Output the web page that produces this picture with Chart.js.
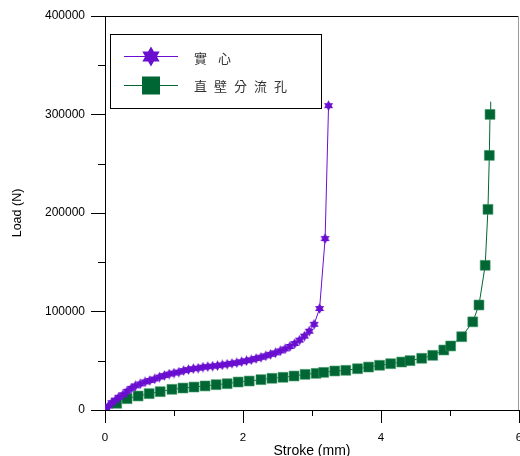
<!DOCTYPE html>
<html>
<head>
<meta charset="utf-8">
<script src="https://cdn.jsdelivr.net/npm/chart.js@4/dist/chart.umd.min.js"></script>
<style>
  html, body { margin: 0; padding: 0; background: #fff; }
  canvas { display: block; }
</style>
</head>
<body>
<canvas id="loadChart" width="520" height="456"></canvas>
<script>
// Solid die (實心) - stroke in mm, load in N
const solidStroke = [0, 0.05, 0.10, 0.15, 0.20, 0.26, 0.32, 0.38, 0.44, 0.51, 0.58, 0.65, 0.72, 0.79, 0.86, 0.93,
    1.00, 1.07, 1.14, 1.21, 1.28, 1.35, 1.42, 1.49, 1.56, 1.63, 1.70, 1.77, 1.84, 1.91, 1.98, 2.05, 2.12, 2.19,
    2.26, 2.33, 2.40, 2.47, 2.54, 2.61, 2.68, 2.75, 2.82, 2.89, 2.96, 3.03, 3.11, 3.19, 3.24];
const solidLoad = [0, 4000, 7500, 10000, 13000, 15500, 19000, 22000, 24500, 26500, 28500, 30000, 31500, 33500, 35000, 36500,
    37500, 38500, 40000, 41000, 42000, 42500, 43500, 44000, 44500, 45000, 45800, 46500, 47300, 48000, 49000, 50000, 51000, 52300,
    53500, 55000, 56500, 58000, 60000, 62000, 64500, 67500, 71000, 75000, 80000, 87000, 103000, 174000, 309000];

// Straight-wall relief hole (直壁分流孔)
const holeStroke = [0, 0.17, 0.32, 0.48, 0.64, 0.80, 0.97, 1.13, 1.29, 1.45, 1.61, 1.77, 1.93, 2.09, 2.26, 2.42, 2.58,
    2.74, 2.90, 3.06, 3.17, 3.33, 3.49, 3.66, 3.82, 3.98, 4.14, 4.30, 4.42, 4.59, 4.75, 4.91, 5.01, 5.17, 5.33,
    5.42, 5.51, 5.55, 5.57, 5.58, 5.59];
const holeLoad = [0, 6800, 11500, 14200, 16600, 18600, 21000, 22300, 23300, 24400, 25700, 26700, 28400, 29400, 30800, 32200, 33200,
    34500, 36200, 37200, 38200, 39600, 40300, 41900, 43600, 45400, 47000, 48700, 50100, 52500, 55500, 60900, 65000, 74400, 89500,
    106600, 146900, 203700, 258500, 300100, 313000];

const seriesNames = ['實 心', '直 壁 分 流 孔'];
const xTicksMajor = [0, 2, 4, 6];
const yTicksMajor = [0, 100000, 200000, 300000, 400000];

const colors = {
    solid: '#6a0fd0',
    hole: '#006633',
    text: '#000',
    legendText: '#333'
};

const FONT = '"Liberation Sans", Arial, sans-serif';

// six-pointed star path
function hexagram(ctx, cx, cy, r) {
    ctx.beginPath();
    [-90, 30, 150].forEach((a, i) => {
        const t = a * Math.PI / 180;
        const px = cx + r * Math.cos(t), py = cy + r * Math.sin(t);
        i ? ctx.lineTo(px, py) : ctx.moveTo(px, py);
    });
    ctx.closePath();
    [90, 210, 330].forEach((a, i) => {
        const t = a * Math.PI / 180;
        const px = cx + r * Math.cos(t), py = cy + r * Math.sin(t);
        i ? ctx.lineTo(px, py) : ctx.moveTo(px, py);
    });
    ctx.closePath();
    ctx.fill();
}

const starImg = document.createElement('canvas');
starImg.width = 11;
starImg.height = 11;
(() => {
    const c = starImg.getContext('2d');
    c.fillStyle = colors.solid;
    hexagram(c, 5.5, 5.5, 5.2);
})();

const toPoints = (xs, ys) => xs.map((x, i) => ({ x: x, y: ys[i] }));

// minor ticks, top/right frame lines
const framePlugin = {
    id: 'frame',
    afterDraw(chart) {
        const { ctx, chartArea: a, scales: { x, y } } = chart;
        ctx.save();
        ctx.strokeStyle = '#000';
        ctx.lineWidth = 1;
        ctx.beginPath();
        [1, 3, 5].forEach(v => {
            const px = Math.round(x.getPixelForValue(v)) + 0.5;
            ctx.moveTo(px, a.bottom);
            ctx.lineTo(px, a.bottom + 6);
        });
        [50000, 150000, 250000, 350000].forEach(v => {
            const py = Math.round(y.getPixelForValue(v)) + 0.5;
            ctx.moveTo(a.left, py);
            ctx.lineTo(a.left - 7, py);
        });
        ctx.moveTo(a.left, a.top + 0.5);
        ctx.lineTo(a.right, a.top + 0.5);
        ctx.stroke();
        ctx.strokeStyle = '#999';
        ctx.beginPath();
        ctx.moveTo(a.right - 0.5, a.top);
        ctx.lineTo(a.right - 0.5, a.bottom);
        ctx.stroke();
        ctx.restore();
    }
};

// boxed legend like the original plot
const boxLegendPlugin = {
    id: 'boxLegend',
    afterDraw(chart) {
        const ctx = chart.ctx;
        ctx.save();
        ctx.fillStyle = '#fff';
        ctx.fillRect(110.5, 34.5, 211, 74);
        ctx.strokeStyle = '#000';
        ctx.lineWidth = 1;
        ctx.strokeRect(110.5, 34.5, 211, 74);

        // row 1
        ctx.strokeStyle = colors.solid;
        ctx.beginPath();
        ctx.moveTo(124, 56.5);
        ctx.lineTo(178, 56.5);
        ctx.stroke();
        ctx.fillStyle = colors.solid;
        hexagram(ctx, 151, 56.5, 10);

        // row 2
        ctx.strokeStyle = colors.hole;
        ctx.beginPath();
        ctx.moveTo(124, 85.5);
        ctx.lineTo(178, 85.5);
        ctx.stroke();
        ctx.fillStyle = colors.hole;
        ctx.fillRect(142, 76.5, 18, 18);

        ctx.fillStyle = colors.legendText;
        ctx.font = '13px "Noto Sans CJK TC", sans-serif';
        ctx.textBaseline = 'middle';
        const row1 = seriesNames[0].split(' ');
        const row2 = seriesNames[1].split(' ');
        row1.forEach((ch, i) => ctx.fillText(ch, 194 + i * 24, 58));
        row2.forEach((ch, i) => ctx.fillText(ch, 194 + i * 20, 86));
        ctx.restore();
    }
};

new Chart(document.getElementById('loadChart'), {
    type: 'scatter',
    data: {
        datasets: [{
            label: seriesNames[0],
            data: toPoints(solidStroke, solidLoad),
            showLine: true,
            borderColor: colors.solid,
            borderWidth: 1,
            pointStyle: starImg,
            pointRadius: 5,
            tension: 0
        }, {
            label: seriesNames[1],
            data: toPoints(holeStroke, holeLoad),
            showLine: true,
            borderColor: colors.hole,
            backgroundColor: colors.hole,
            borderWidth: 1,
            pointStyle: 'rect',
            pointBorderColor: 'rgba(60,150,100,0.6)',
            pointBorderWidth: 1,
            pointRadius: holeLoad.map((_, i) => i === holeLoad.length - 1 ? 0 : 7),
            tension: 0
        }]
    },
    options: {
        responsive: false,
        animation: false,
        layout: {
            autoPadding: false,
            padding: { top: 16, right: 1, left: 0, bottom: 0 }
        },
        plugins: {
            legend: { display: false },
            tooltip: { enabled: false }
        },
        scales: {
            x: {
                type: 'linear',
                min: 0,
                max: 6,
                afterFit: (s) => {
                    s.height = 46;
                    s.paddingLeft = 0;
                    s.paddingRight = 0;
                },
                afterBuildTicks: (s) => { s.ticks = xTicksMajor.map(v => ({ value: v })); },
                grid: {
                    drawOnChartArea: false,
                    tickLength: 13,
                    tickColor: '#000'
                },
                border: { color: '#000', width: 1 },
                ticks: {
                    color: colors.text,
                    padding: 8,
                    maxRotation: 0,
                    font: { family: FONT, size: 11.5 }
                },
                title: {
                    display: true,
                    text: 'Stroke (mm)',
                    color: colors.text,
                    padding: { top: 0, bottom: -4 },
                    font: { family: FONT, size: 14 }
                }
            },
            y: {
                type: 'linear',
                min: 0,
                max: 400000,
                afterFit: (s) => { s.width = 105; },
                afterBuildTicks: (s) => { s.ticks = yTicksMajor.map(v => ({ value: v })); },
                grid: {
                    drawOnChartArea: false,
                    tickLength: 14,
                    tickColor: '#000'
                },
                border: { color: '#000', width: 1 },
                ticks: {
                    color: colors.text,
                    padding: 6,
                    font: { family: FONT, size: 12 },
                    callback: (v) => String(v)
                },
                title: {
                    display: true,
                    text: 'Load (N)',
                    color: colors.text,
                    padding: { top: 10, bottom: 0 },
                    font: { family: FONT, size: 12.5 }
                }
            }
        }
    },
    plugins: [framePlugin, boxLegendPlugin]
});
</script>
</body>
</html>
